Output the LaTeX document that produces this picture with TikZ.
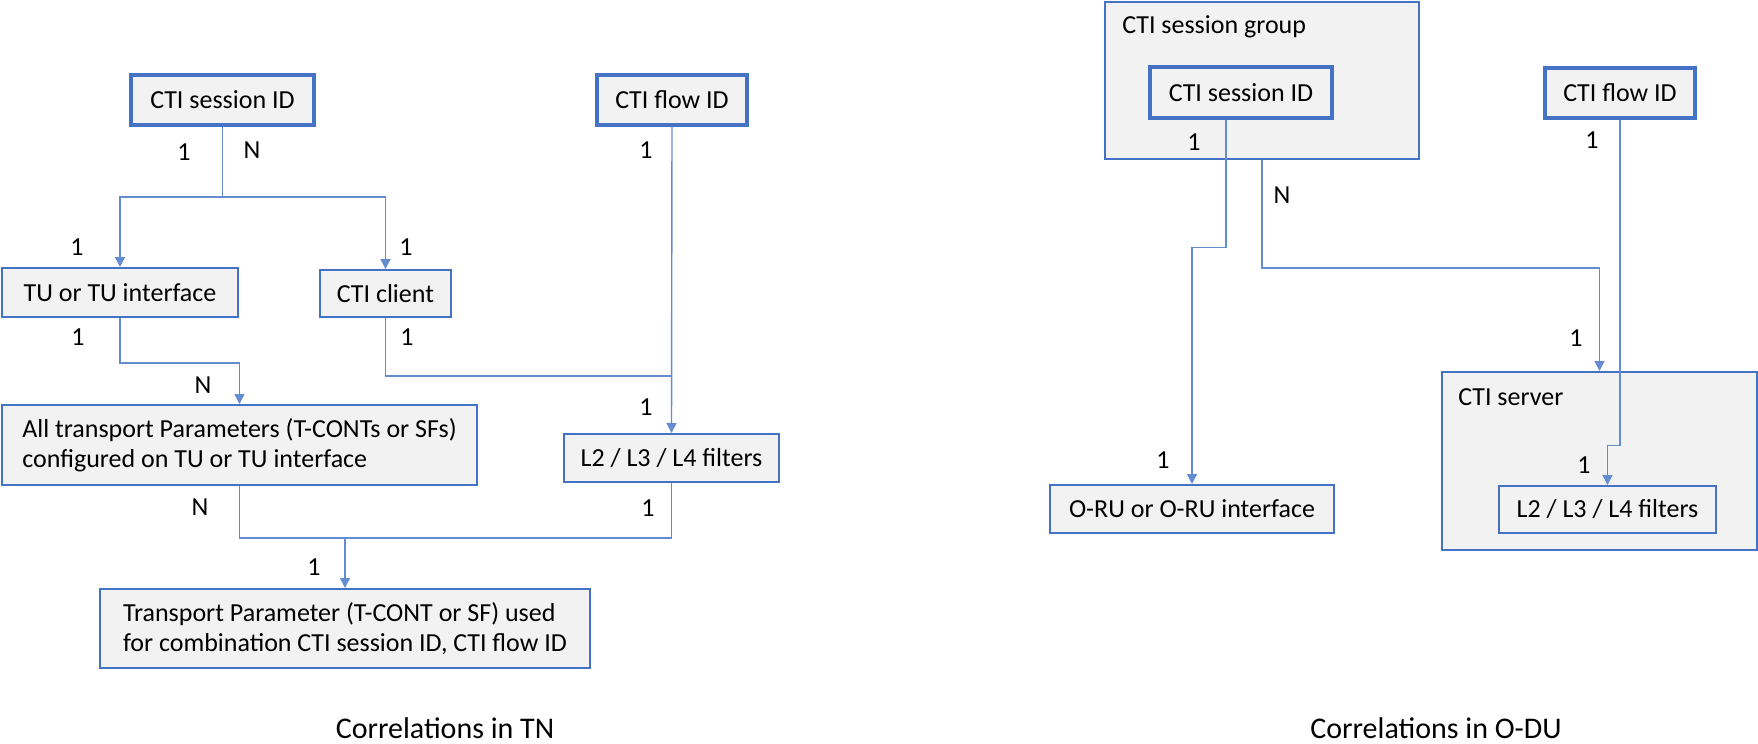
\documentclass[tikz,border=0pt]{standalone}
\usepackage{fontspec}
\setmainfont{Carlito}
\usetikzlibrary{arrows.meta}

\definecolor{boxblue}{RGB}{68,114,196}
\definecolor{lineblue}{RGB}{100,140,210}
\definecolor{boxgray}{RGB}{242,242,242}

\tikzset{
  box/.style={draw=boxblue, line width=1pt, fill=boxgray, inner sep=0pt},
  idbox/.style={box, line width=2.2pt},
  conn/.style={draw=lineblue, line width=0.7pt},
  arr/.style={conn, -{Triangle[length=5pt,width=5pt]}},
  lbl/.style={inner sep=0pt},
  caption/.style={font=\fontsize{15}{18}\selectfont}
}

\begin{document}
\begin{tikzpicture}[x=0.5pt, y=-0.5pt, font=\fontsize{13}{15}\selectfont]
    \useasboundingbox (0,0) rectangle (1758,744);

    % Correlations in TN
    \node[idbox, minimum width=91.5pt, minimum height=25pt] (sid) at (222.5,100) {CTI session ID};
    \node[idbox, minimum width=75pt, minimum height=25pt] (fid) at (672,100) {CTI flow ID};
    \node[box, minimum width=118pt, minimum height=24.5pt] (tu) at (120,292.5) {TU or TU interface};
    \node[box, minimum width=65.5pt, minimum height=23.5pt] (cli) at (385.5,293.5) {CTI client};
    \node[box, minimum width=237.5pt, minimum height=40pt, align=left] (allp) at (239.5,445)
        {All transport Parameters (T-CONTs or SFs)\\configured on TU or TU interface};
    \node[box, minimum width=107.5pt, minimum height=24pt] (l2a) at (671.5,458) {L2 / L3 / L4 filters};
    \node[box, minimum width=245pt, minimum height=39.5pt, align=left] (tp) at (345,628.5)
        {Transport Parameter (T-CONT or SF) used\\for combination CTI session ID, CTI flow ID};

    \coordinate (jA) at (222.5,197);
    \draw[conn] (sid.south) -- (jA);
    \draw[arr] (jA) -| (tu.north);
    \draw[arr] (jA) -| (cli.north);
    \draw[arr] (tu.south) -- ++(0,45) -| (allp.north);
    \coordinate (jC) at (671.5,376);
    \draw[conn] (cli.south) |- (jC);
    \draw[arr] (fid.south) -- (l2a.north);
    \draw[conn] (allp.south) -- ++(0,52) coordinate (jB) -| (l2a.south);
    \draw[arr] (tp.north |- jB) -- (tp.north);

    \node[lbl] (s1) at (184,152) {1};
    \node[lbl] (sn) at (252,150) {N};
    \node[lbl] (tu1) at (77,247) {1};
    \node[lbl] (cl1) at (406,247) {1};
    \node[lbl] (tu2) at (78,337) {1};
    \node[lbl] (cl2) at (407,337) {1};
    \node[lbl] (an1) at (203,385) {N};
    \node[lbl] (f1) at (646,150) {1};
    \node[lbl] (f2) at (646,407) {1};
    \node[lbl] (an2) at (200,507) {N};
    \node[lbl] (la1) at (648,508) {1};
    \node[lbl] (tp1) at (314,567) {1};

    \node[caption] (captn) at (445,728) {Correlations in TN};

    % Correlations in O-DU
    \node[box, minimum width=157pt, minimum height=78.5pt] (grp) at (1262,80.5) {};
    \node[lbl, anchor=west] (grptitle) at (1122,27) {CTI session group};
    \node[idbox, minimum width=91pt, minimum height=25.5pt] (sid2) at (1241,92.5) {CTI session ID};
    \node[idbox, minimum width=75pt, minimum height=25pt] (fid2) at (1620,93) {CTI flow ID};
    \node[box, minimum width=142pt, minimum height=24pt] (oru) at (1192,509) {O-RU or O-RU interface};
    \node[box, minimum width=157.5pt, minimum height=89pt] (srv) at (1599.5,461) {};
    \node[lbl, anchor=west] (srvtitle) at (1458,397) {CTI server};
    \node[box, minimum width=108.5pt, minimum height=23.5pt] (l2b) at (1607.5,509.5) {L2 / L3 / L4 filters};

    \draw[arr] ([xshift=-7.5pt]sid2.south) -- ++(0,127) -| (oru.north);
    \draw[arr] (grp.south) -- ++(0,108) -| (srv.north);
    \draw[arr] (fid2.south) -- ++(0,325) -| (l2b.north);

    \node[lbl] (g1) at (1194,142) {1};
    \node[lbl] (gn) at (1282,195) {N};
    \node[lbl] (f3) at (1592,140) {1};
    \node[lbl] (o1) at (1163,460) {1};
    \node[lbl] (sv1) at (1576,338) {1};
    \node[lbl] (lb1) at (1584,465) {1};

    \node[caption] (capodu) at (1436,728) {Correlations in O-DU};
\end{tikzpicture}
\end{document}
